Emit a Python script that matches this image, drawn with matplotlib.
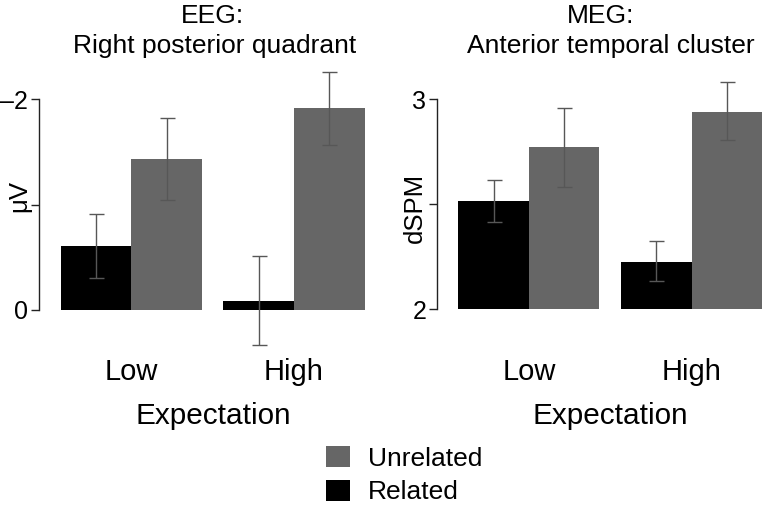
import numpy as np
import matplotlib
matplotlib.use("Agg")
import matplotlib.pyplot as plt
from matplotlib.patches import Patch

plt.rcParams["font.family"] = ["Liberation Sans", "DejaVu Sans"]

# data
groups = ["Low", "High"]
conditions = ["Related", "Unrelated"]
colors = {"Related": "#000000", "Unrelated": "#666666"}

eeg_related = [-0.61, -0.085]
eeg_unrelated = [-1.43, -1.915]
eeg_related_lo = [-0.31, 0.34]
eeg_related_hi = [-0.92, -0.505]
eeg_unrelated_lo = [-1.04, -1.57]
eeg_unrelated_hi = [-1.82, -2.26]

meg_related = [2.514, 2.226]
meg_unrelated = [2.770, 2.940]
meg_related_lo = [2.415, 2.133]
meg_related_hi = [2.615, 2.323]
meg_unrelated_lo = [2.583, 2.805]
meg_unrelated_hi = [2.959, 3.079]

W, H = 763, 507
fig = plt.figure(figsize=(W / 100, H / 100), dpi=100)


def px_axes(x0, x1, ytop, ybot):
    return fig.add_axes([x0 / W, (H - ybot) / H, (x1 - x0) / W, (ybot - ytop) / H])


def draw_panel(ax, rel, unrel, rel_lo, rel_hi, unrel_lo, unrel_hi, base, width):
    x = np.arange(len(groups))
    err_kw = dict(fmt="none", ecolor="#575757", elinewidth=1.0, capsize=5.4, capthick=1.0)
    for vals, lo, hi, off, name in [(rel, rel_lo, rel_hi, -width / 2, "Related"),
                                     (unrel, unrel_lo, unrel_hi, width / 2, "Unrelated")]:
        vals = np.asarray(vals)
        heights = vals - base
        ax.bar(x + off, heights, width=width, bottom=base, color=colors[name], edgecolor="none")
        yerr = np.vstack([np.abs(vals - np.asarray(lo)), np.abs(np.asarray(hi) - vals)])
        ax.errorbar(x + off, vals, yerr=yerr, clip_on=False, **err_kw)
    ax.set_xticks(x, groups)
    ax.tick_params(axis="x", length=0, labelsize=21, pad=4)
    ax.tick_params(axis="y", length=6, width=1.0, color="#222222", labelsize=18, pad=2)
    for s in ["top", "right", "bottom"]:
        ax.spines[s].set_visible(False)
    ax.spines["left"].set_color("#222222")
    ax.spines["left"].set_linewidth(1.0)
    ax.set_xlabel("Expectation", fontsize=21.4, labelpad=12)


# EEG panel (negative up)
ax1 = px_axes(39, 386.5, 62, 352)
draw_panel(ax1, eeg_related, eeg_unrelated, eeg_related_lo, eeg_related_hi,
           eeg_unrelated_lo, eeg_unrelated_hi, 0.0, 0.434)
ax1.set_xlim(-0.569, 1.569)
ax1.set_ylim(0.399, -2.355)
ax1.set_yticks([-2, -1, 0], ["\u20132", "", "0"])
ax1.spines["left"].set_bounds(-2, 0)
ax1.set_ylabel("\u03bcV", fontsize=18.5)
ax1.yaxis.set_label_coords(-0.021, 0.538)
ax1.text(0.498, 1.1345, "EEG:", transform=ax1.transAxes, ha="center", va="baseline", fontsize=19)
ax1.text(0.506, 1.031, "Right posterior quadrant", transform=ax1.transAxes, ha="center", va="baseline", fontsize=19)

# MEG panel
ax2 = px_axes(437.3, 783, 62, 352)
draw_panel(ax2, meg_related, meg_unrelated, meg_related_lo, meg_related_hi,
           meg_unrelated_lo, meg_unrelated_hi, 2.0, 0.433)
ax2.set_xlim(-0.562, 1.560)
ax2.set_ylim(1.797, 3.176)
ax2.set_yticks([2, 2.5, 3], ["2", "", "3"])
ax2.spines["left"].set_bounds(2, 3)
ax2.set_ylabel("dSPM", fontsize=18.5)
ax2.yaxis.set_label_coords(-0.031, 0.497)
ax2.text(0.4735, 1.1345, "MEG:", transform=ax2.transAxes, ha="center", va="baseline", fontsize=19)
ax2.text(0.502, 1.031, "Anterior temporal cluster", transform=ax2.transAxes, ha="center", va="baseline", fontsize=19)

handles = [Patch(facecolor=colors["Unrelated"], edgecolor="none", label="Unrelated"),
           Patch(facecolor=colors["Related"], edgecolor="none", label="Related")]
fig.legend(handles=handles, loc="upper left", bbox_to_anchor=(318 / W, 1 - 438 / H),
           frameon=False, fontsize=19, handlelength=0.9, handleheight=0.85,
           handletextpad=0.7, labelspacing=0.35, borderaxespad=0, borderpad=0.3)

fig.savefig("out.png", dpi=100)
